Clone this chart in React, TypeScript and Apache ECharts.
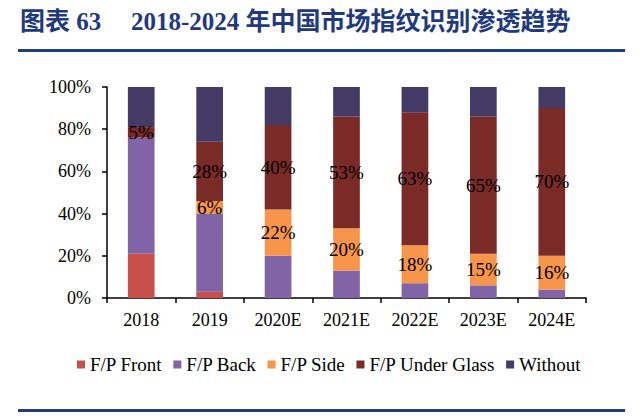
import React, { useEffect, useRef } from "react";
import * as echarts from "echarts";

const categories = ["2018", "2019", "2020E", "2021E", "2022E", "2023E", "2024E"];
const front = [21, 3, 0, 0, 0, 0, 0];
const back = [55, 37, 20, 13, 7, 6, 4];
const side = [0, 6, 22, 20, 18, 15, 16];
const underGlass = [5, 28, 40, 53, 63, 65, 70];
const without = [19, 26, 18, 14, 12, 14, 10];
const yTicks = [0, 20, 40, 60, 80, 100];

const SERIF = "'Liberation Serif', 'Times New Roman', serif";

export default function App() {
  const ref = useRef<HTMLDivElement>(null);
  useEffect(() => {
    document.body.style.margin = "0";
    const chart = echarts.init(ref.current!, null, { renderer: "svg" });
    const labelOn = {
      show: true,
      position: "inside",
      color: "#000",
      fontFamily: SERIF,
      fontSize: 19,
      formatter: (p: any) => (p.value > 0 ? p.value + "%" : ""),
    };
    const mk = (name: string, data: number[], color: string, label: any) => ({
      name,
      type: "bar",
      stack: "total",
      barWidth: "39%",
      data,
      itemStyle: { color },
      label,
    });
    chart.setOption({
      animation: false,
      backgroundColor: "#fff",
      graphic: [
        {
          type: "text",
          left: 20,
          top: 9,
          style: {
            text: "图表 63",
            font: "bold 25px 'Liberation Serif', 'Noto Sans CJK SC', serif",
            fill: "#1F3A7D",
          },
        },
        {
          type: "text",
          left: 131,
          top: 9,
          style: {
            text: "2018-2024 年中国市场指纹识别渗透趋势",
            font: "bold 25px 'Liberation Serif', 'Noto Sans CJK SC', serif",
            fill: "#1F3A7D",
          },
        },
        {
          type: "rect",
          shape: { x: 18, y: 49, width: 607, height: 3 },
          style: { fill: "#1F3F80" },
        },
        {
          type: "rect",
          shape: { x: 18, y: 409, width: 607, height: 3 },
          style: { fill: "#1F3F80" },
        },
      ],
      grid: { left: 107, right: 54, top: 87, bottom: 118 },
      legend: {
        left: 72,
        top: 350,
        itemWidth: 8,
        itemHeight: 8,
        itemGap: 11,
        icon: "rect",
        textStyle: { fontFamily: SERIF, fontSize: 19, color: "#000" },
        data: ["F/P Front", "F/P Back", "F/P Side", "F/P Under Glass", "Without"],
      },
      xAxis: {
        type: "category",
        data: categories,
        axisLine: { lineStyle: { color: "#000", width: 1.5 } },
        axisTick: { show: true, length: 5, alignWithLabel: false, lineStyle: { color: "#000", width: 1.5 } },
        axisLabel: { fontFamily: SERIF, fontSize: 18, color: "#000", margin: 13 },
      },
      yAxis: {
        type: "value",
        min: 0,
        max: 100,
        interval: 20,
        splitLine: { show: false },
        axisLine: { show: true, lineStyle: { color: "#000", width: 1.5 } },
        axisTick: { show: true, length: 5, lineStyle: { color: "#000", width: 1.5 } },
        axisLabel: {
          fontFamily: SERIF,
          fontSize: 18,
          color: "#000",
          margin: 16,
          formatter: (v: number) => (yTicks.includes(v) ? v + "%" : ""),
        },
      },
      series: [
        mk("F/P Front", front, "#C8504B", { show: false }),
        mk("F/P Back", back, "#8064A6", { show: false }),
        mk("F/P Side", side, "#F7954A", labelOn),
        mk("F/P Under Glass", underGlass, "#7A2A27", labelOn),
        mk("Without", without, "#433A66", { show: false }),
      ],
    });
    return () => chart.dispose();
  }, []);
  return <div ref={ref} style={{ width: 640, height: 416 }} />;
}
